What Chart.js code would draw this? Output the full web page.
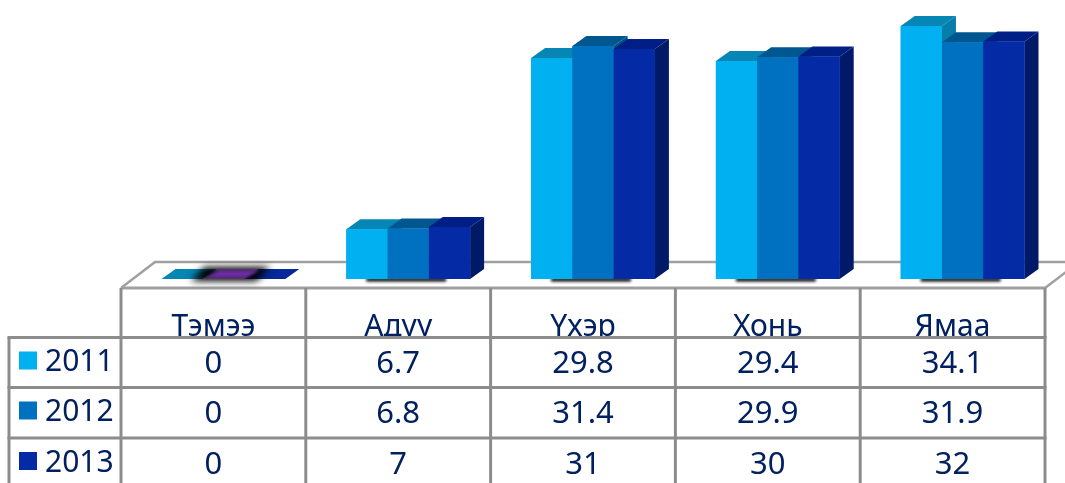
<!DOCTYPE html>
<html><head><meta charset="utf-8">
<style>html,body{margin:0;padding:0;background:#fff}canvas{display:block}</style>
<script src="https://cdn.jsdelivr.net/npm/chart.js@4"></script>
</head><body><canvas id="c" width="1065" height="483"></canvas>
<script>
const categories = ["Тэмээ","Адуу","Үхэр","Хонь","Ямаа"];
const seriesNames = ["2011","2012","2013"];
const values2011 = [0,6.7,29.8,29.4,34.1];
const values2012 = [0,6.8,31.4,29.9,31.9];
const values2013 = [0,7,31,30,32];
const frontColors = ["#00B0F0","#0070C0","#052AA6"];
const topColors = ["#0586B4","#00578F","#001F86"];
const sideColors = ["#057FAA","#004F85","#001A68"];
const zeroColors = ["#0586B4","#6A2CA0","#06289A"];
const ink = "#002060", rule = "#8C8C8C";
const DX = 14, DY = 10, SHIFT = 10;

function poly(ctx, pts, color){
  ctx.fillStyle = color; ctx.beginPath();
  pts.forEach((p,i)=> i ? ctx.lineTo(p[0],p[1]) : ctx.moveTo(p[0],p[1]));
  ctx.closePath(); ctx.fill();
}
function line(ctx,x1,y1,x2,y2,color,w){
  ctx.strokeStyle=color; ctx.lineWidth=w; ctx.beginPath(); ctx.moveTo(x1,y1); ctx.lineTo(x2,y2); ctx.stroke();
}
const bars3d = {
  id:"bars3d",
  beforeDatasetsDraw(chart){
    const ctx = chart.ctx, xs = chart.scales.x, base = chart.scales.y.getPixelForValue(0);
    const left = xs.left-SHIFT, right = xs.right-SHIFT, floorY = base+9, backY = floorY-26;
    ctx.save();
    line(ctx,left,floorY,left+34,backY,"#A0A0A0",2.5);
    line(ctx,left+33,backY,chart.width,backY,"#A0A0A0",2.5);
    line(ctx,right,floorY,right+34,backY,"#A0A0A0",2.5);
    line(ctx,left,floorY,right,floorY,"#A0A0A0",3);
    const metas = [0,1,2].map(i=>chart.getDatasetMeta(i));
    ctx.filter = "blur(1.5px)"; ctx.fillStyle = "#000";
    categories.forEach((c,i)=>{
      const a = metas[0].data[i], b = metas[2].data[i];
      if(values2011[i]===0) return;
      ctx.fillRect(a.x-a.width/2+20, base-1, b.x+b.width/2-a.x+a.width/2-44, 3.5);
    });
    ctx.restore();
  },
  afterDatasetsDraw(chart){
    const ctx = chart.ctx, base = chart.scales.y.getPixelForValue(0);
    ctx.save();
    [0,1,2].forEach(d=>{
      chart.getDatasetMeta(d).data.forEach((el,i)=>{
        const l = el.x-el.width/2, r = el.x+el.width/2, t = el.y;
        if(chart.data.datasets[d].data[i]===0) return;
        poly(ctx,[[r,t],[r+DX,t-DY],[r+DX,base-DY],[r,base]],sideColors[d]);
        poly(ctx,[[l,t],[l+DX,t-DY],[r+DX,t-DY],[r,t]],topColors[d]);
        el.draw(ctx);
      });
    });
    categories.forEach((c,i)=>{
      [0,2,1].forEach(d=>{
        if(chart.data.datasets[d].data[i]!==0) return;
        const el = chart.getDatasetMeta(d).data[i];
        const l = el.x-el.width/2, r = el.x+el.width/2;
        if(d===1){
          ctx.save(); ctx.filter="blur(3.5px)";
          poly(ctx,[[l-12,base+2],[l+2,base-DY-2],[r+DX+12,base-DY-2],[r+12,base+2]],"#000");
          ctx.filter="blur(1.5px)";
          poly(ctx,[[l+2,base-1],[l+DX+2,base-DY+1],[r+DX+2,base-DY+1],[r+2,base-1]],zeroColors[d]);
          ctx.restore();
        } else {
          poly(ctx,[[l,base],[l+DX,base-DY],[r+DX,base-DY],[r,base]],zeroColors[d]);
        }
      });
    });
    ctx.restore();
  },
  afterDraw(chart){
    const ctx = chart.ctx, xs = chart.scales.x;
    const rows = [values2011,values2012,values2013];
    const rowTops = [337.5,387.5,438], tableBottom = 483, outerX = 9;
    const left = xs.left-SHIFT, step = xs.getPixelForTick(1)-xs.getPixelForTick(0), floorY = chart.scales.y.getPixelForValue(0)+9;
    ctx.save();
    ctx.fillStyle="#fff"; ctx.fillRect(0,rowTops[0],chart.width,chart.height-rowTops[0]);
    ctx.textBaseline="middle"; ctx.fillStyle=ink;
    rows.forEach((vals,r)=>{
      const cy = rowTops[r]+25;
      ctx.fillStyle = frontColors[r]; ctx.fillRect(19,cy-11,18,18);
      ctx.fillStyle = ink; ctx.textAlign="left"; ctx.font='30px "Noto Sans"'; ctx.fillText(seriesNames[r],45,cy);
      ctx.textAlign="center"; ctx.font='31px "Noto Sans"';
      vals.forEach((v,i)=>ctx.fillText(String(v),xs.getPixelForTick(i)-SHIFT,cy+2));
    });
    rowTops.forEach(y=>line(ctx,outerX-1.5,y,xs.right-SHIFT+1.5,y,rule,3));
    line(ctx,outerX,rowTops[0],outerX,tableBottom,rule,3);
    for(let i=0;i<=categories.length;i++){
      const x = left+step*i;
      line(ctx,x,floorY,x,tableBottom,rule,3);
    }
    ctx.restore();
  }
};
new Chart(document.getElementById("c"),{
  type:"bar",
  data:{labels:categories,datasets:[
    {label:seriesNames[0],data:values2011,backgroundColor:frontColors[0]},
    {label:seriesNames[1],data:values2012,backgroundColor:frontColors[1]},
    {label:seriesNames[2],data:values2013,backgroundColor:frontColors[2]}
  ]},
  options:{
    responsive:false,animation:false,devicePixelRatio:1,
    categoryPercentage:0.67,barPercentage:1,
    layout:{padding:{left:131,right:10,top:4.5,bottom:0}},
    plugins:{legend:{display:false},title:{display:false},tooltip:{enabled:false}},
    scales:{
      y:{display:false,min:0,max:37},
      x:{grid:{display:false},border:{display:false},
        afterFit(s){s.height=204;},
        ticks:{color:ink,font:{family:"Noto Sans",size:30},padding:22,labelOffset:-SHIFT,autoSkip:false,maxRotation:0}}
    }
  },
  plugins:[bars3d]
});
</script></body></html>
